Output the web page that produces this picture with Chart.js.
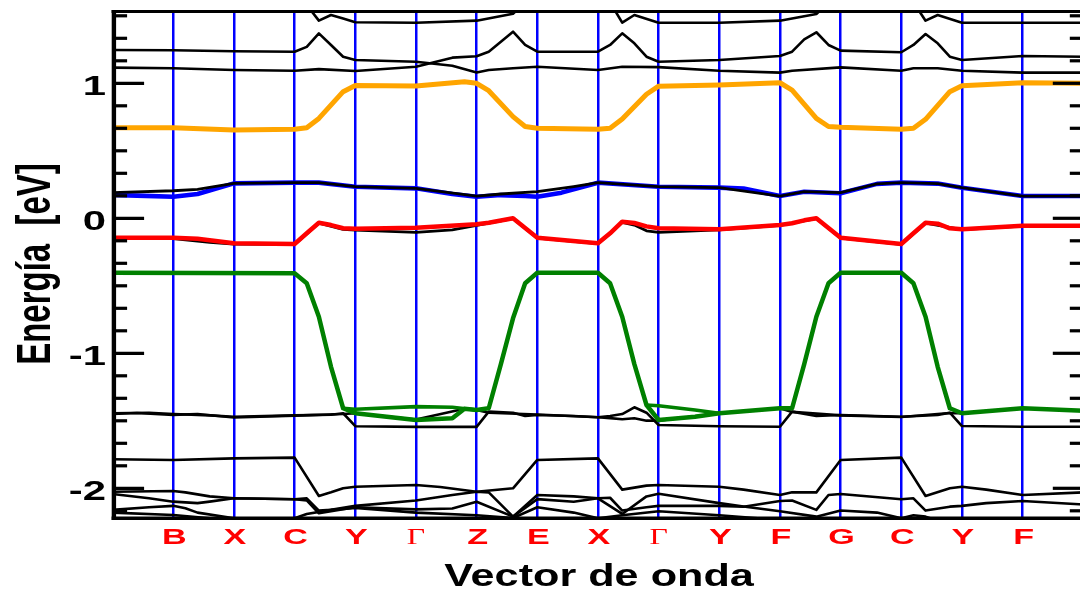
<!DOCTYPE html>
<html>
<head>
<meta charset="utf-8">
<script src="https://cdn.jsdelivr.net/npm/chart.js@4/dist/chart.umd.min.js"></script>
<style>
  html, body { margin: 0; padding: 0; background: #fff; overflow: hidden; width: 1080px; height: 593px; }
  canvas { display: block; }
</style>
</head>
<body>
<canvas id="bands" width="1090" height="593"></canvas>
<script>
// High-symmetry points along the k-path (positions in path units)
const kPos    = [1, 2, 3, 4, 5, 6, 7, 8, 9, 10, 11, 12, 13, 14, 15];
const kLabels = ['B', 'X', 'C', 'Y', 'Γ', 'Z', 'E', 'X', 'Γ', 'Y', 'F', 'G', 'C', 'Y', 'F'];
const kMin = 0, kMax = 16;

// Energy axis (eV)
const eMin = -2.22, eMax = 1.53;
const eMajorTicks = [-2, -1, 0, 1];
const eMinorPerUnit = 6;

// Bands as [k, E] pairs
const bandOrange = [[0,0.671],[1,0.671],[2,0.654],[3,0.659],[3.2,0.671],[3.4,0.74],[3.8,0.938],[4,0.984],[5,0.98],[5.8,1.012],[6,1.0],[6.2,0.945],[6.6,0.753],[6.8,0.68],[7,0.667],[8,0.659],[8.2,0.667],[8.4,0.735],[8.8,0.919],[9,0.979],[10,0.987],[11,1.004],[11.2,0.95],[11.6,0.74],[11.8,0.68],[12,0.674],[13,0.659],[13.2,0.667],[13.4,0.733],[13.8,0.938],[14,0.982],[15,1.004],[16,1.0]];

const bandRed = [[0,-0.144],[1,-0.144],[1.4,-0.152],[2,-0.185],[3,-0.19],[3.2,-0.111],[3.4,-0.033],[3.6,-0.05],[3.8,-0.074],[4,-0.077],[5,-0.07],[6,-0.044],[6.2,-0.033],[6.6,0.0],[7,-0.144],[8,-0.185],[8.2,-0.111],[8.4,-0.025],[8.6,-0.035],[8.8,-0.06],[9,-0.074],[10,-0.081],[11,-0.05],[11.2,-0.037],[11.4,-0.015],[11.6,0.0],[12,-0.144],[13,-0.19],[13.2,-0.111],[13.4,-0.033],[13.6,-0.04],[13.8,-0.074],[14,-0.081],[15,-0.055],[16,-0.055]];

const bandRedPartner = [[0,-0.148],[1,-0.15],[1.6,-0.178],[2,-0.192],[3,-0.193],[3.2,-0.115],[3.4,-0.036],[3.8,-0.082],[4,-0.087],[5,-0.104],[5.6,-0.085],[6,-0.052],[6.2,-0.036],[6.6,-0.003],[7,-0.147],[8,-0.188],[8.2,-0.113],[8.4,-0.03],[8.6,-0.05],[8.8,-0.093],[9,-0.104],[10,-0.085],[11,-0.052],[11.6,-0.003],[12,-0.147],[13,-0.193],[13.4,-0.036],[14,-0.084],[15,-0.058],[16,-0.058]];

const bandBlue = [[0,0.173],[0.4,0.168],[1,0.16],[1.4,0.18],[2,0.259],[3,0.264],[3.4,0.264],[4,0.234],[5,0.222],[5.6,0.18],[6,0.16],[6.4,0.172],[6.8,0.165],[7,0.16],[7.4,0.19],[8,0.264],[9,0.234],[10,0.227],[10.4,0.22],[11,0.165],[11.4,0.197],[12,0.185],[12.6,0.255],[13,0.264],[13.6,0.257],[14,0.227],[15,0.165],[16,0.165]];

const bandBluePartner = [[0,0.19],[1,0.204],[1.4,0.215],[2,0.259],[3,0.264],[3.4,0.264],[4,0.234],[5,0.222],[6,0.165],[6.4,0.18],[7,0.197],[7.6,0.235],[8,0.264],[9,0.234],[10,0.227],[11,0.165],[11.4,0.197],[12,0.19],[12.6,0.255],[13,0.264],[13.6,0.257],[14,0.227],[15,0.165],[16,0.165]];

const bandGreen = [[0,-0.403],[3,-0.407],[3.2,-0.481],[3.4,-0.729],[3.6,-1.1],[3.8,-1.407],[4,-1.444],[5,-1.494],[5.6,-1.481],[5.8,-1.41],[6,-1.42],[6.2,-1.407],[6.4,-1.08],[6.6,-0.741],[6.8,-0.481],[7,-0.403],[8,-0.403],[8.2,-0.481],[8.4,-0.729],[8.6,-1.08],[8.8,-1.383],[9,-1.494],[9.6,-1.47],[10,-1.444],[11,-1.407],[11.2,-1.407],[11.4,-1.08],[11.6,-0.729],[11.8,-0.481],[12,-0.403],[13,-0.403],[13.2,-0.481],[13.4,-0.729],[13.6,-1.1],[13.8,-1.407],[14,-1.444],[15,-1.407],[16,-1.425]];
const bandGreenLensA = [[3.8,-1.407],[4,-1.415],[5,-1.395],[5.6,-1.4],[6,-1.42]];
const bandGreenLensB = [[8.8,-1.383],[9,-1.388],[9.6,-1.42],[10,-1.444]];

const bandLow1 = [[0,-1.444],[0.6,-1.44],[1,-1.45],[1.6,-1.46],[2,-1.47],[3,-1.46],[3.6,-1.455],[3.8,-1.444],[4,-1.54],[5,-1.545],[6,-1.545],[6.2,-1.432],[6.6,-1.44],[6.8,-1.464],[7,-1.457],[7.6,-1.464],[8,-1.474],[8.2,-1.464],[8.4,-1.45],[8.6,-1.4],[8.8,-1.44],[9,-1.531],[10,-1.54],[11,-1.544],[11.2,-1.432],[11.6,-1.464],[12,-1.457],[13,-1.47],[13.6,-1.457],[13.8,-1.44],[14,-1.539],[15,-1.544],[16,-1.544]];
const bandLow2 = [[0,-1.45],[0.4,-1.442],[1,-1.456],[1.4,-1.45],[2,-1.475],[3,-1.462],[3.8,-1.45],[4,-1.444],[5,-1.49],[5.8,-1.41],[6,-1.42],[6.2,-1.44],[7,-1.453],[8,-1.474],[8.2,-1.48],[8.4,-1.489],[8.6,-1.481],[8.8,-1.499],[9,-1.5],[10,-1.444],[11,-1.407],[11.2,-1.434],[12,-1.46],[13,-1.472],[13.8,-1.442],[14,-1.444],[15,-1.407],[16,-1.425]];

const bandDeep1 = [[0,-1.785],[1,-1.79],[2,-1.778],[3,-1.773],[3.4,-2.057],[3.6,-2.03],[3.8,-2.0],[4,-1.988],[5,-1.976],[5.4,-1.99],[6,-2.025],[6.6,-2.0],[7,-1.79],[8,-1.778],[8.4,-2.01],[8.8,-1.98],[9,-1.976],[10,-1.988],[10.4,-2.01],[11,-2.05],[11.2,-2.03],[11.6,-2.03],[12,-1.79],[13,-1.773],[13.4,-2.057],[13.8,-2.0],[14,-1.988],[14.4,-2.01],[15,-2.05],[16,-2.03]];
const bandDeep2 = [[0,-2.025],[1,-2.02],[1.2,-2.03],[1.6,-2.06],[2,-2.074],[3,-2.081],[3.2,-2.074],[3.4,-2.165],[3.6,-2.16],[4,-2.13],[5,-2.09],[5.6,-2.05],[6,-2.025],[6.2,-2.03],[6.6,-2.21],[7,-2.05],[7.6,-2.06],[8,-2.074],[8.2,-2.07],[8.4,-2.165],[8.8,-2.14],[9,-2.13],[10,-2.13],[10.4,-2.137],[11,-2.094],[11.2,-2.09],[11.6,-2.16],[11.8,-2.05],[12,-2.042],[13,-2.081],[13.2,-2.074],[13.4,-2.165],[13.8,-2.136],[14,-2.13],[14.4,-2.11],[15,-2.094],[16,-2.12]];
const bandDeep3 = [[0,-2.042],[0.6,-2.074],[1,-2.099],[1.4,-2.11],[1.6,-2.099],[2,-2.074],[3,-2.081],[3.2,-2.09],[3.4,-2.185],[3.6,-2.17],[4,-2.14],[5,-2.156],[5.6,-2.15],[6,-2.1],[6.6,-2.21],[7,-2.08],[7.6,-2.1],[8,-2.074],[8.4,-2.19],[8.8,-2.06],[9,-2.04],[10,-2.11],[10.4,-2.135],[11,-2.17],[11.6,-2.21],[12,-2.165],[12.6,-2.18],[13,-2.222],[13.2,-2.2],[13.4,-2.21],[13.6,-2.24],[16,-2.24]];
const bandDeep4 = [[0,-2.16],[0.6,-2.14],[1,-2.13],[1.2,-2.148],[1.4,-2.18],[2,-2.222],[3,-2.222],[3.2,-2.19],[3.6,-2.16],[4,-2.145],[5,-2.18],[6,-2.2],[6.6,-2.22],[7,-2.14],[7.6,-2.18],[8,-2.222],[8.4,-2.2],[9,-2.17],[10,-2.2],[11,-2.235],[16,-2.235]];
const bandDeep5 = [[0,-2.18],[1,-2.198],[1.6,-2.222],[3,-2.235],[16,-2.235]];

const bandHigh1 = [[0,1.116],[1,1.111],[2,1.099],[3,1.093],[3.4,1.105],[4,1.091],[5,1.123],[5.6,1.19],[6,1.2],[6.2,1.234],[6.6,1.382],[6.8,1.284],[7,1.234],[8,1.234],[8.2,1.284],[8.4,1.37],[8.6,1.296],[8.8,1.197],[9,1.16],[10,1.173],[11,1.202],[11.2,1.234],[11.4,1.326],[11.6,1.378],[11.8,1.284],[12,1.242],[13,1.23],[13.2,1.284],[13.4,1.365],[13.6,1.296],[13.8,1.197],[14,1.173],[15,1.202],[16,1.197]];
const bandHigh2 = [[0,1.247],[1,1.245],[2,1.237],[3,1.234],[3.2,1.27],[3.4,1.37],[3.6,1.284],[3.8,1.197],[4,1.173],[5,1.16],[5.6,1.13],[6,1.08],[6.2,1.099],[6.6,1.111],[7,1.123],[8,1.099],[8.4,1.123],[9,1.12],[10,1.093],[11,1.079],[11.2,1.093],[12,1.118],[13,1.093],[13.2,1.111],[13.6,1.111],[14,1.093],[15,1.079],[16,1.079]];
const bandHigh3 = [[0,1.65],[3,1.65],[3.2,1.58],[3.4,1.464],[3.6,1.506],[3.8,1.48],[4,1.452],[5,1.449],[6,1.464],[6.6,1.515],[6.8,1.6],[8.2,1.6],[8.4,1.449],[8.6,1.506],[9,1.449],[10,1.449],[11,1.464],[11.6,1.513],[11.8,1.6],[13.2,1.6],[13.4,1.464],[13.6,1.506],[14,1.449],[15,1.449],[16,1.449]];

// Line styles for each band, top-most first
const bandStyles = [
  { data: bandOrange,      color: '#ffa500', width: 5 },
  { data: bandRed,         color: '#ff0000', width: 4.5 },
  { data: bandGreen,       color: '#008000', width: 4.5 },
  { data: bandGreenLensA,  color: '#008000', width: 3.6 },
  { data: bandGreenLensB,  color: '#008000', width: 3.6 },
  { data: bandRedPartner,  color: '#000000', width: 2.8 },
  { data: bandBluePartner, color: '#000000', width: 2.8 },
  { data: bandLow1,        color: '#000000', width: 2.6 },
  { data: bandLow2,        color: '#000000', width: 2.6 },
  { data: bandDeep1,       color: '#000000', width: 2.6 },
  { data: bandDeep2,       color: '#000000', width: 2.6 },
  { data: bandDeep3,       color: '#000000', width: 2.6 },
  { data: bandDeep4,       color: '#000000', width: 2.6 },
  { data: bandDeep5,       color: '#000000', width: 2.6 },
  { data: bandHigh1,       color: '#000000', width: 2.6 },
  { data: bandHigh2,       color: '#000000', width: 2.6 },
  { data: bandHigh3,       color: '#000000', width: 2.6 },
  { data: bandBlue,        color: '#0000ff', width: 4.6 }
];

const datasets = bandStyles.map((b, i) => ({
  data: b.data.map(([k, e]) => ({ x: k, y: e })),
  borderColor: b.color,
  borderWidth: b.width,
  pointRadius: 0,
  tension: 0,
  fill: false,
  clip: 0,
  order: i,
  borderJoinStyle: 'round'
}));

// Text helper: draws text stretched horizontally by sx
function stretchedText(ctx, text, x, y, font, color, sx, align, rotate) {
  ctx.save();
  ctx.translate(x, y);
  ctx.scale(sx, 1);
  if (rotate) ctx.rotate(rotate);
  ctx.font = font;
  ctx.fillStyle = color;
  ctx.textAlign = align;
  ctx.textBaseline = 'alphabetic';
  ctx.fillText(text, 0, 0);
  ctx.restore();
}

// Frame, inward ticks, tick labels and axis titles
const framePlugin = {
  id: 'frame',
  afterDraw(chart) {
    const { ctx, chartArea: { left, right, top, bottom }, scales: { x, y } } = chart;
    ctx.save();
    ctx.strokeStyle = '#000';
    ctx.lineCap = 'butt';

    const seg = (x1, y1, x2, y2, w) => {
      ctx.lineWidth = w;
      ctx.beginPath(); ctx.moveTo(x1, y1); ctx.lineTo(x2, y2); ctx.stroke();
    };

    // box
    seg(left - 1, top - 0.25, right + 2, top - 0.25, 3.2);
    seg(left - 1, bottom + 0.3, right + 2, bottom + 0.3, 3.6);
    seg(left + 1.3, top - 1.8, left + 1.3, bottom + 2.1, 4.4);
    seg(right, top - 1.8, right, bottom + 2.1, 4.4);

    // ticks on left and right sides
    const jLo = Math.ceil(eMin * eMinorPerUnit), jHi = Math.floor(eMax * eMinorPerUnit);
    for (let j = jLo; j <= jHi; j++) {
      const v = j / eMinorPerUnit;
      const py = y.getPixelForValue(v);
      const major = j % eMinorPerUnit === 0;
      seg(left, py, left + (major ? 31.5 : 14.5), py, 3.2);
      seg(right - (major ? 30.5 : 13.5), py, right, py, 3.2);
    }

    // energy tick labels
    eMajorTicks.forEach(v => {
      const py = y.getPixelForValue(v);
      stretchedText(ctx, String(v), 106, py + 11.7,
        'bold 27px "Liberation Sans", Arial, sans-serif', '#000', 1.55, 'right');
    });

    // k-point labels
    kPos.forEach((k, i) => {
      const px = x.getPixelForValue(k);
      const lab = kLabels[i];
      if (lab === 'Γ') {
        stretchedText(ctx, lab, px, 543.5, '23.5px "Liberation Serif", "Times New Roman", serif', '#ff0000', 1.35, 'center');
      } else {
        stretchedText(ctx, lab, px + 1, 543.5, 'bold 22px "Liberation Sans", Arial, sans-serif', '#ff0000', 1.55, 'center');
      }
    });

    // axis titles
    stretchedText(ctx, 'Vector de onda', 599, 586, 'bold 32px "Liberation Sans", Arial, sans-serif', '#000', 1.35, 'center');
    stretchedText(ctx, 'Energía  [eV]', 50, 264, 'bold 33px "Liberation Sans", Arial, sans-serif', '#000', 1.48, 'center', -Math.PI / 2);

    ctx.restore();
  }
};

new Chart(document.getElementById('bands').getContext('2d'), {
  type: 'line',
  data: { datasets },
  options: {
    responsive: false,
    animation: false,
    devicePixelRatio: 1,
    events: [],
    layout: { padding: { left: 112.6, right: 6.7, top: 11.75, bottom: 75 } },
    plugins: { legend: { display: false }, tooltip: { enabled: false } },
    scales: {
      x: {
        type: 'linear', min: kMin, max: kMax,
        afterFit(s) { s.height = 0; },
        afterBuildTicks(s) { s.ticks = kPos.map(v => ({ value: v })); },
        ticks: { display: false },
        border: { display: false },
        grid: { color: '#0000ff', lineWidth: 2.5, drawTicks: false }
      },
      y: {
        type: 'linear', min: eMin, max: eMax,
        afterFit(s) { s.width = 0; },
        ticks: { display: false },
        border: { display: false },
        grid: { display: false }
      }
    }
  },
  plugins: [framePlugin]
});
</script>
</body>
</html>
